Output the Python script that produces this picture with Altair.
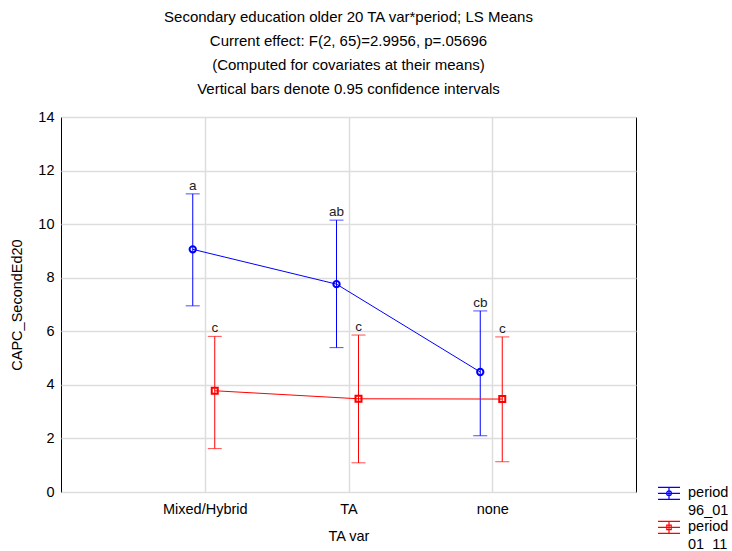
import altair as alt
import pandas as pd

# ---- data ----
categories = ["Mixed/Hybrid", "TA", "none"]
periods = ["96_01", "01_11"]
mean_96_01 = [9.06, 7.76, 4.48]
upper_96_01 = [11.13, 10.15, 6.76]
lower_96_01 = [6.95, 5.39, 2.10]
letters_96_01 = ["a", "ab", "cb"]
mean_01_11 = [3.78, 3.48, 3.47]
upper_01_11 = [5.81, 5.86, 5.79]
lower_01_11 = [1.62, 1.09, 1.13]
letters_01_11 = ["c", "c", "c"]

title_lines = [
    "Secondary education older 20 TA var*period; LS Means",
    "Current effect: F(2, 65)=2.9956, p=.05696",
    "(Computed for covariates at their means)",
    "Vertical bars denote 0.95 confidence intervals",
]

FONT = "Liberation Sans"
BLUE = "#0000ff"
RED = "#ff0000"

rows = []
for p, m, u, l, t in [
    (periods[0], mean_96_01, upper_96_01, lower_96_01, letters_96_01),
    (periods[1], mean_01_11, upper_01_11, lower_01_11, letters_01_11),
]:
    for c, mi, ui, li, ti in zip(categories, m, u, l, t):
        rows.append({"cat": c, "period": p, "mean": mi, "upper": ui, "lower": li, "letter": ti})
df = pd.DataFrame(rows)

x_enc = alt.X(
    "cat:N",
    sort=categories,
    scale=alt.Scale(type="point", padding=1, domain=categories),
    axis=alt.Axis(title="TA var", labelAngle=0, tickSize=0, labelPadding=10,
                  titlePadding=14, grid=True, domain=False),
)
y_scale = alt.Scale(domain=[0, 14], nice=False, zero=True)
y_axis = alt.Axis(title="CAPC_SecondEd20", values=list(range(0, 15, 2)),
                  tickSize=0, labelPadding=7, titlePadding=13, domain=False)

base = alt.Chart(df)

layers = []
styles = {
    "96_01": dict(color=BLUE, off=-12, shape="circle", size=40),
    "01_11": dict(color=RED, off=10, shape="square", size=36),
}
for i, p in enumerate(periods):
    st = styles[p]
    b = base.transform_filter(alt.datum.period == p)
    y_main = alt.Y("mean:Q", scale=y_scale, axis=y_axis)
    line = b.mark_line(color=st["color"], strokeWidth=1, xOffset=st["off"]).encode(
        x=x_enc, y=y_main)
    rule = b.mark_rule(color=st["color"], strokeWidth=1, xOffset=st["off"]).encode(
        x=x_enc, y=alt.Y("lower:Q", scale=y_scale), y2="upper:Q")
    cap_u = b.mark_tick(color=st["color"], thickness=1, size=14, xOffset=st["off"],
                        orient="horizontal").encode(x=x_enc, y=alt.Y("upper:Q", scale=y_scale))
    cap_l = b.mark_tick(color=st["color"], thickness=1, size=14, xOffset=st["off"],
                        orient="horizontal").encode(x=x_enc, y=alt.Y("lower:Q", scale=y_scale))
    pts = b.mark_point(color=st["color"], filled=False, strokeWidth=2, shape=st["shape"],
                       size=st["size"], xOffset=st["off"], opacity=1).encode(
        x=x_enc, y=alt.Y("mean:Q", scale=y_scale))
    txt = b.mark_text(font=FONT, fontSize=13.5, color="#222222", baseline="bottom",
                      dy=-1, xOffset=st["off"]).encode(
        x=x_enc, y=alt.Y("upper:Q", scale=y_scale), text="letter:N")
    layers += [line, rule, cap_u, cap_l, pts, txt]

# legend layer (invisible marks, custom errorbar-like symbols, drawn slightly raised)
circle_sym = ("M-1,-0.88H1M-1,-0.33H1M-1,0.22H1M0,-0.88V0.22"
              "M0.22,-0.33A0.22,0.22 0 1,1 -0.22,-0.33A0.22,0.22 0 1,1 0.22,-0.33Z")
square_sym = ("M-1,-0.88H1M-1,-0.33H1M-1,0.22H1M0,-0.88V0.22"
              "M-0.2,-0.53H0.2V-0.13H-0.2Z")
legend_layer = base.mark_point(opacity=0, filled=False).encode(
    x=x_enc,
    y=alt.Y("mean:Q", scale=y_scale),
    color=alt.Color("period:N", sort=periods,
                    scale=alt.Scale(domain=periods, range=[BLUE, RED]),
                    legend=alt.Legend(title=None, orient="none", legendX=596, legendY=368,
                                      symbolSize=484, symbolStrokeWidth=1.2,
                                      symbolOpacity=1, symbolFillColor="white",
                                      labelFont=FONT, labelFontSize=14.5,
                                      labelExpr="['period', datum.label]",
                                      labelBaseline="alphabetic", labelOffset=7,
                                      rowPadding=0, padding=0)),
    shape=alt.Shape("period:N", sort=periods,
                    scale=alt.Scale(domain=periods, range=[circle_sym, square_sym])),
)
layers.append(legend_layer)

chart = alt.layer(*layers).properties(
    width=575,
    height=375,
    padding={"left": 61, "top": 117, "right": 96, "bottom": 59},
    autosize=alt.AutoSizeParams(type="none"),
    title=alt.Title(title_lines, anchor="middle", fontSize=15, font=FONT,
                    fontWeight="normal", lineHeight=24, offset=12, color="black"),
).configure(
    style={"guide-label": {"lineHeight": 18}}
).configure_view(stroke="black", strokeWidth=1).configure_axis(
    labelFont=FONT, titleFont=FONT, labelFontSize=14.5, titleFontSize=14.5,
    titleFontWeight="normal", labelColor="black", titleColor="black",
    gridColor="#dddddd", gridWidth=1.5,
).configure_legend(labelFont=FONT)

chart.save("out.html", embed_options={"renderer": "svg", "actions": False})
